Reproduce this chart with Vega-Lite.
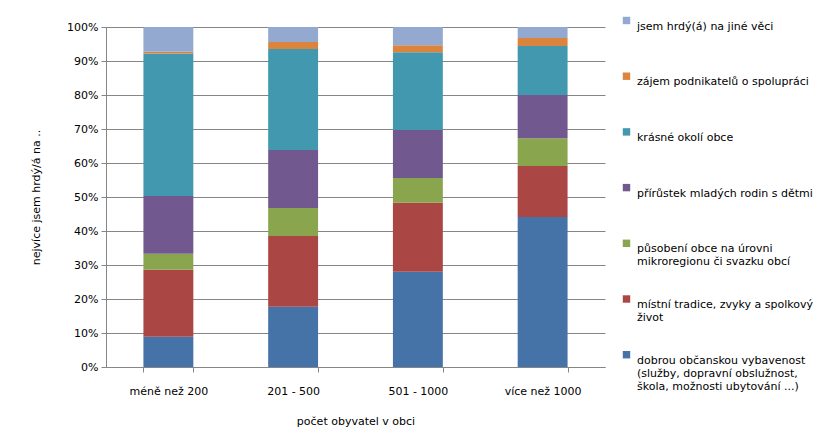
{
  "$schema": "https://vega.github.io/schema/vega-lite/v6.json",
  "width": 499,
  "height": 340,
  "padding": {"left": 30, "top": 21, "right": 17, "bottom": 5},
  "background": "white",
  "datasets": {
    "series": [
      {"s": "dobrou občanskou vybavenost (služby, dopravní obslužnost, škola, možnosti ubytování ...)", "k": 1},
      {"s": "místní tradice, zvyky a spolkový život", "k": 2},
      {"s": "působení obce na úrovni mikroregionu či svazku obcí", "k": 3},
      {"s": "přírůstek mladých rodin s dětmi", "k": 4},
      {"s": "krásné okolí obce", "k": 5},
      {"s": "zájem podnikatelů o spolupráci", "k": 6},
      {"s": "jsem hrdý(á) na jiné věci", "k": 7}
    ]
  },
  "data": {
    "values": [
      {"c": "méně než 200", "s": "dobrou občanskou vybavenost (služby, dopravní obslužnost, škola, možnosti ubytování ...)", "v": 8.9},
      {"c": "méně než 200", "s": "místní tradice, zvyky a spolkový život", "v": 19.7},
      {"c": "méně než 200", "s": "působení obce na úrovni mikroregionu či svazku obcí", "v": 4.7},
      {"c": "méně než 200", "s": "přírůstek mladých rodin s dětmi", "v": 17.0},
      {"c": "méně než 200", "s": "krásné okolí obce", "v": 41.9},
      {"c": "méně než 200", "s": "zájem podnikatelů o spolupráci", "v": 0.5},
      {"c": "méně než 200", "s": "jsem hrdý(á) na jiné věci", "v": 7.3},
      {"c": "201 - 500", "s": "dobrou občanskou vybavenost (služby, dopravní obslužnost, škola, možnosti ubytování ...)", "v": 17.7},
      {"c": "201 - 500", "s": "místní tradice, zvyky a spolkový život", "v": 20.8},
      {"c": "201 - 500", "s": "působení obce na úrovni mikroregionu či svazku obcí", "v": 8.3},
      {"c": "201 - 500", "s": "přírůstek mladých rodin s dětmi", "v": 17.0},
      {"c": "201 - 500", "s": "krásné okolí obce", "v": 29.7},
      {"c": "201 - 500", "s": "zájem podnikatelů o spolupráci", "v": 2.1},
      {"c": "201 - 500", "s": "jsem hrdý(á) na jiné věci", "v": 4.4},
      {"c": "501 - 1000", "s": "dobrou občanskou vybavenost (služby, dopravní obslužnost, škola, možnosti ubytování ...)", "v": 28.0},
      {"c": "501 - 1000", "s": "místní tradice, zvyky a spolkový život", "v": 20.3},
      {"c": "501 - 1000", "s": "působení obce na úrovni mikroregionu či svazku obcí", "v": 7.3},
      {"c": "501 - 1000", "s": "přírůstek mladých rodin s dětmi", "v": 14.1},
      {"c": "501 - 1000", "s": "krásné okolí obce", "v": 22.9},
      {"c": "501 - 1000", "s": "zájem podnikatelů o spolupráci", "v": 2.0},
      {"c": "501 - 1000", "s": "jsem hrdý(á) na jiné věci", "v": 5.4},
      {"c": "více než 1000", "s": "dobrou občanskou vybavenost (služby, dopravní obslužnost, škola, možnosti ubytování ...)", "v": 44.1},
      {"c": "více než 1000", "s": "místní tradice, zvyky a spolkový život", "v": 15.0},
      {"c": "více než 1000", "s": "působení obce na úrovni mikroregionu či svazku obcí", "v": 8.2},
      {"c": "více než 1000", "s": "přírůstek mladých rodin s dětmi", "v": 12.7},
      {"c": "více než 1000", "s": "krásné okolí obce", "v": 14.4},
      {"c": "více než 1000", "s": "zájem podnikatelů o spolupráci", "v": 2.4},
      {"c": "více než 1000", "s": "jsem hrdý(á) na jiné věci", "v": 3.2}
    ]
  },
  "transform": [
    {"lookup": "s", "from": {"data": {"name": "series"}, "key": "s", "fields": ["k"]}}
  ],
  "mark": {"type": "bar"},
  "encoding": {
    "x": {
      "field": "c",
      "type": "nominal",
      "sort": ["méně než 200", "201 - 500", "501 - 1000", "více než 1000"],
      "scale": {"paddingInner": 0.6, "paddingOuter": 0.3},
      "axis": {
        "title": "počet obyvatel v obci",
        "labelAngle": 0,
        "tickBand": "extent",
        "labelPadding": 13,
        "titlePadding": 19
      }
    },
    "y": {
      "field": "v",
      "type": "quantitative",
      "stack": "normalize",
      "scale": {"domain": [0, 1]},
      "axis": {
        "title": "nejvíce jsem hrdý/á na ..",
        "format": ".0%",
        "values": [0, 0.1, 0.2, 0.3, 0.4, 0.5, 0.6, 0.7, 0.8, 0.9, 1],
        "grid": true,
        "labelPadding": 3,
        "titlePadding": 25
      }
    },
    "order": {"field": "k", "type": "quantitative", "sort": "ascending"},
    "color": {
      "field": "s",
      "type": "nominal",
      "scale": {
        "domain": [
          "jsem hrdý(á) na jiné věci",
          "zájem podnikatelů o spolupráci",
          "krásné okolí obce",
          "přírůstek mladých rodin s dětmi",
          "působení obce na úrovni mikroregionu či svazku obcí",
          "místní tradice, zvyky a spolkový život",
          "dobrou občanskou vybavenost (služby, dopravní obslužnost, škola, možnosti ubytování ...)"
        ],
        "range": ["#93A9CF", "#DB843D", "#4198AF", "#71588F", "#89A54E", "#AA4643", "#4572A7"]
      },
      "legend": {
        "title": null,
        "symbolType": "square",
        "symbolSize": 55,
        "symbolStrokeWidth": 0,
        "gridAlign": "all",
        "labelBaseline": "top",
        "labelLineHeight": 17.5,
        "labelOffset": 5,
        "rowPadding": 12.7,
        "offset": 28,
        "padding": -12,
        "labelLimit": 300,
        "labelExpr": "indexof(datum.value,'dobrou')==0 ? ['dobrou občanskou vybavenost','(služby, dopravní obslužnost,','škola, možnosti ubytování ...)'] : indexof(datum.value,'místní')==0 ? ['místní tradice, zvyky a spolkový','život',''] : indexof(datum.value,'působení')==0 ? ['působení obce na úrovni','mikroregionu či svazku obcí',''] : [datum.value,'','']"
      }
    }
  },
  "config": {
    "font": "DejaVu Sans",
    "view": {"stroke": null},
    "axis": {
      "labelFont": "DejaVu Sans",
      "titleFont": "DejaVu Sans",
      "labelFontSize": 11,
      "titleFontSize": 11,
      "titleFontWeight": "normal",
      "labelColor": "#000000",
      "titleColor": "#000000",
      "domainColor": "#868686",
      "tickColor": "#868686",
      "gridColor": "#868686",
      "tickSize": 5
    },
    "axisX": {"grid": false},
    "legend": {"labelFont": "DejaVu Sans", "labelFontSize": 11, "labelColor": "#000000"}
  }
}
